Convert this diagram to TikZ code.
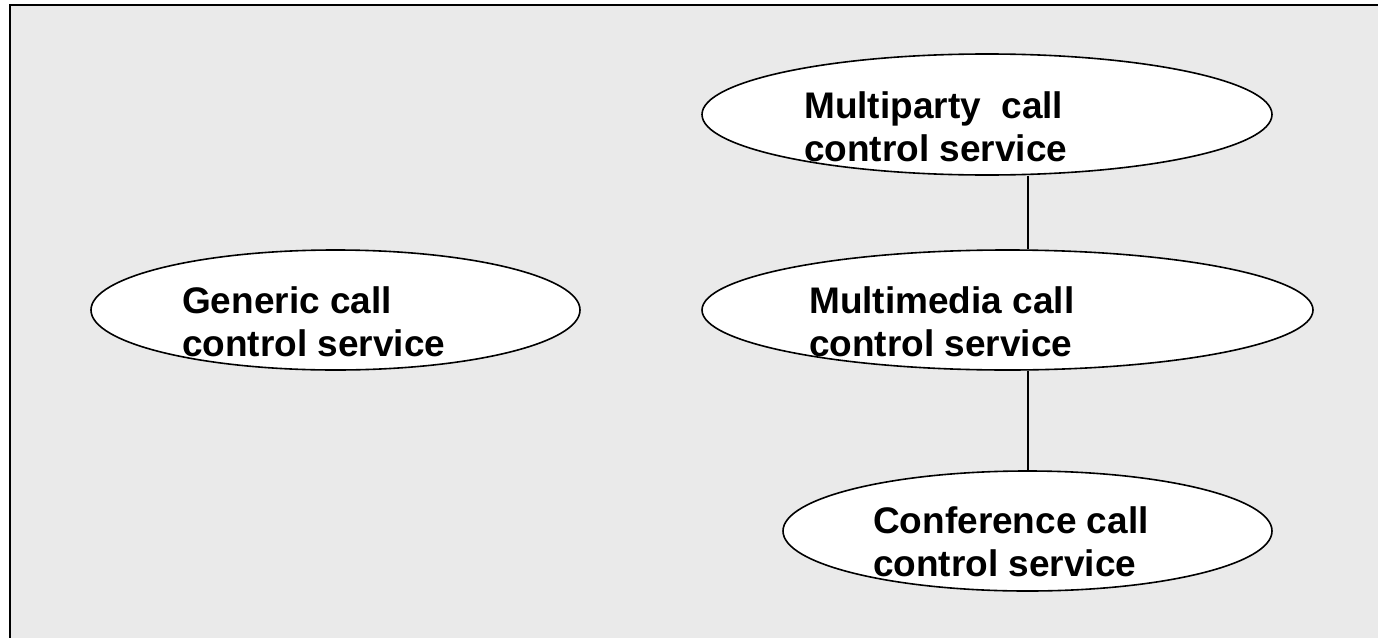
\documentclass[tikz,border=0pt]{standalone}
\usepackage{fontspec}
\setmainfont{Liberation Sans}
\usetikzlibrary{shapes.geometric}
\definecolor{bggray}{HTML}{EAEAEA}
\begin{document}
\begin{tikzpicture}[x=1pt,y=-1pt,
  svc/.style={ellipse,draw=black,line width=1.6pt,fill=white,inner sep=0pt},
  lbl/.style={anchor=base west,inner sep=0pt,font=\fontsize{37}{43}\selectfont\bfseries},
  conn/.style={draw=black,line width=1.5pt},
  frame/.style={draw=black,line width=2pt}]
\useasboundingbox (0,0) rectangle (1378,637);
% background panel
\coordinate (fTL) at (10,5);
\coordinate (fBR) at (1380,640);
\fill[bggray] (fTL) rectangle (fBR);
\draw[frame] (10,640) -- (fTL) -- (1380,5);
% ellipses
\node[svc,minimum width=570pt,minimum height=121pt] (mp) at (987,114.5) {};
\node[svc,minimum width=611pt,minimum height=120pt] (mm) at (1007.5,310) {};
\node[svc,minimum width=489pt,minimum height=120pt] (gen) at (335.5,310) {};
\node[svc,minimum width=489pt,minimum height=120pt] (conf) at (1027.5,531) {};
% connectors
\coordinate (lx) at (1028,0);
\draw[conn] (mp.south -| lx) -- (mm.north -| lx);
\draw[conn] (mm.south -| lx) -- (conf.north -| lx);
% labels
\node[lbl] (mpt) at (804,118) {\vtop{\hbox{Multiparty\ \ call}\hbox{control service}}};
\node[lbl] (mmt) at (809,313) {\vtop{\hbox{Multimedia call}\hbox{control service}}};
\node[lbl] (gent) at (182,313) {\vtop{\hbox{Generic call}\hbox{control service}}};
\node[lbl] (conft) at (873,533) {\vtop{\hbox{Conference call}\hbox{control service}}};
\end{tikzpicture}
\end{document}
